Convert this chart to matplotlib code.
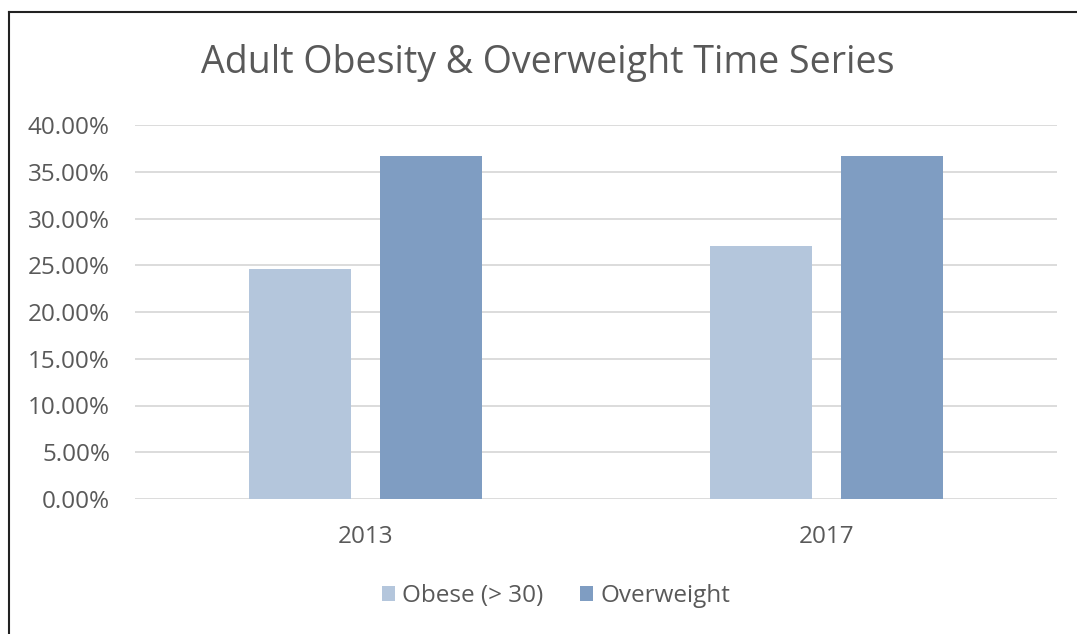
import matplotlib.pyplot as plt
import matplotlib.ticker as mticker
from matplotlib.lines import Line2D
import numpy as np

years = ["2013", "2017"]
obese = [24.6, 27.05]
overweight = [36.7, 36.7]
series_names = ["Obese (> 30)", "Overweight"]
yticks = [0, 5, 10, 15, 20, 25, 30, 35, 40]

C_OBESE = "#B4C6DC"
C_OVER = "#7F9DC2"
TXT = "#595959"
GRID = "#D9D9D9"

plt.rcParams["font.family"] = ["Open Sans", "DejaVu Sans"]

W, H = 1077, 634
fig = plt.figure(figsize=(W / 100, H / 100), dpi=100)
ax = fig.add_axes([135 / W, 1 - 499 / H, (1057 - 135) / W, (499 - 125) / H])

x = np.arange(len(years))
bw = 0.222
off = 0.142
ax.bar(x - off, obese, bw, color=C_OBESE, label=series_names[0], zorder=3)
ax.bar(x + off, overweight, bw, color=C_OVER, label=series_names[1], zorder=3)

ax.set_xlim(-0.5, 1.5)
ax.set_ylim(0, 40)
ax.set_yticks(yticks)
ax.yaxis.set_major_formatter(mticker.FuncFormatter(lambda v, p: f"{v:.2f}%"))
ax.set_xticks(x)
ax.set_xticklabels(years)
ax.grid(axis="y", color=GRID, lw=1.3, zorder=0)
for s in ax.spines.values():
    s.set_visible(False)
ax.tick_params(axis="both", length=0, colors=TXT, labelsize=17.5)
ax.tick_params(axis="y", pad=18)
ax.tick_params(axis="x", pad=19)

fig.text(548 / W, 1 - 63 / H, "Adult Obesity & Overweight Time Series",
         ha="center", va="center", fontsize=27, color=TXT)

leg = fig.legend(loc="center", bbox_to_anchor=(556 / W, 1 - 596 / H), ncol=2,
                 frameon=False, fontsize=17.5, handlelength=0.55, handleheight=0.55,
                 handletextpad=0.3, columnspacing=1.5)
for t in leg.get_texts():
    t.set_color(TXT)

# outer frame (left and top edges visible)
fig.add_artist(Line2D([9 / W, 9 / W], [0, 1 - 12 / H], color="#222222", lw=1.5))
fig.add_artist(Line2D([9 / W, 1], [1 - 12 / H, 1 - 12 / H], color="#222222", lw=1.5))

fig.savefig("out.png", dpi=100)
